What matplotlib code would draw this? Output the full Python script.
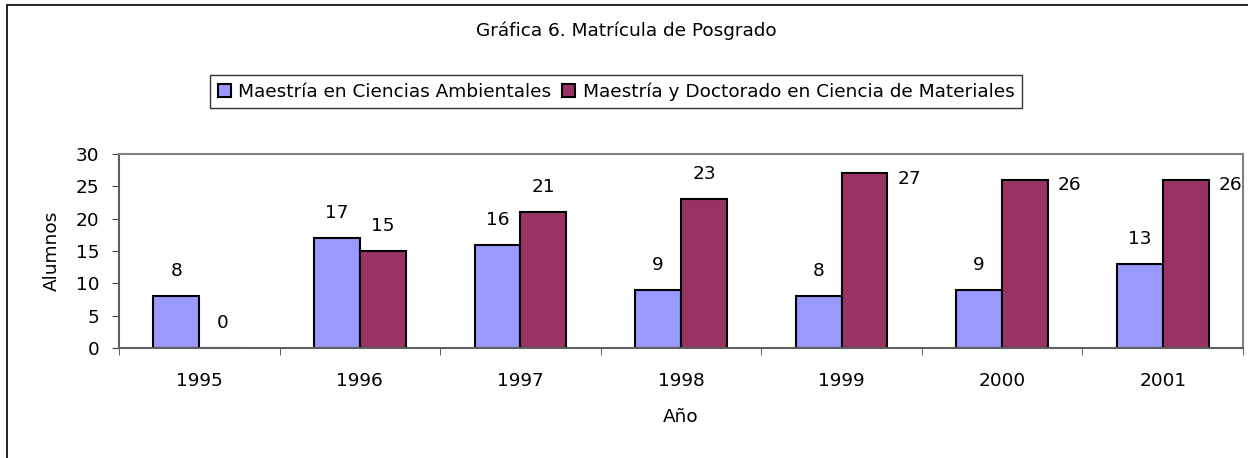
import matplotlib
matplotlib.use('Agg')
import matplotlib.pyplot as plt
import matplotlib.patches as patches
import numpy as np

years = ['1995', '1996', '1997', '1998', '1999', '2000', '2001']
ambientales = [8, 17, 16, 9, 8, 9, 13]
materiales = [0, 15, 21, 23, 27, 26, 26]
series_names = ['Maestría en Ciencias Ambientales',
                'Maestría y Doctorado en Ciencia de Materiales']
colors = ['#9999FF', '#993366']

plt.rcParams['font.family'] = 'DejaVu Sans'
fs = 13.3
W, H = 1248, 458
fig = plt.figure(figsize=(W / 100, H / 100), dpi=100)

# chart area border
fig.patches.append(patches.Rectangle((7 / W, -0.1), 1.2, 1 - 5 / H + 0.1, transform=fig.transFigure,
                                     fill=False, edgecolor='black', linewidth=1.2))

ax = fig.add_axes([119 / W, 1 - 348 / H, (1243 - 119) / W, (348 - 154) / H])
x = np.arange(len(years))
bw = 0.286
bars1 = ax.bar(x - bw / 2, ambientales, bw, color=colors[0], edgecolor='black', linewidth=1.5,
               label=series_names[0])
bars2 = ax.bar(x + bw / 2, materiales, bw, color=colors[1], edgecolor='black', linewidth=1.5,
               label=series_names[1])

ax.set_xlim(-0.5, len(years) - 0.5)
ax.set_ylim(0, 30)
ax.set_yticks(range(0, 31, 5))
ax.set_xticks(x)
ax.set_xticklabels(years)
ax.set_xticks(np.arange(len(years) + 1) - 0.5, minor=True)
ax.tick_params(axis='x', which='major', length=0, pad=17, labelsize=fs)
ax.tick_params(axis='x', which='minor', length=5, direction='out', color='#404040')
ax.tick_params(axis='y', length=5, direction='out', color='#404040', labelsize=fs, pad=9)
for s in ['top', 'right']:
    ax.spines[s].set_color('#808080')
    ax.spines[s].set_linewidth(1.5)
for s in ['left', 'bottom']:
    ax.spines[s].set_color('#606060')
    ax.spines[s].set_linewidth(1.5)

ax.set_xlabel('Año', fontsize=fs, labelpad=13)
ax.set_ylabel('Alumnos', fontsize=fs, labelpad=11)

# data labels (above bars, pushed to the right when they would leave the plot area)
for bars, vals in [(bars1, ambientales), (bars2, materiales)]:
    for b, v in zip(bars, vals):
        cx = b.get_x() + b.get_width() / 2
        if v + 3.7 > 29:
            ax.annotate(str(v), (b.get_x() + b.get_width(), v), xytext=(7, -4),
                        textcoords='offset points', ha='left', va='center', fontsize=fs,
                        annotation_clip=False)
        else:
            ax.annotate(str(v), (cx, v), xytext=(0, 18), textcoords='offset points',
                        ha='center', va='center', fontsize=fs)

fig.text(626 / W, 1 - 31 / H, 'Gráfica 6. Matrícula de Posgrado', ha='center', va='center',
         fontsize=fs)

leg = fig.legend(loc='center', bbox_to_anchor=(616 / W, 1 - 91.5 / H), ncol=2, fontsize=fs,
                 frameon=True, fancybox=False, edgecolor='black', handlelength=0.7,
                 handleheight=0.7, handletextpad=0.4, columnspacing=0.6, borderpad=0.4,
                 borderaxespad=0)
leg.get_frame().set_linewidth(1.0)

fig.savefig('out.png', dpi=100)
